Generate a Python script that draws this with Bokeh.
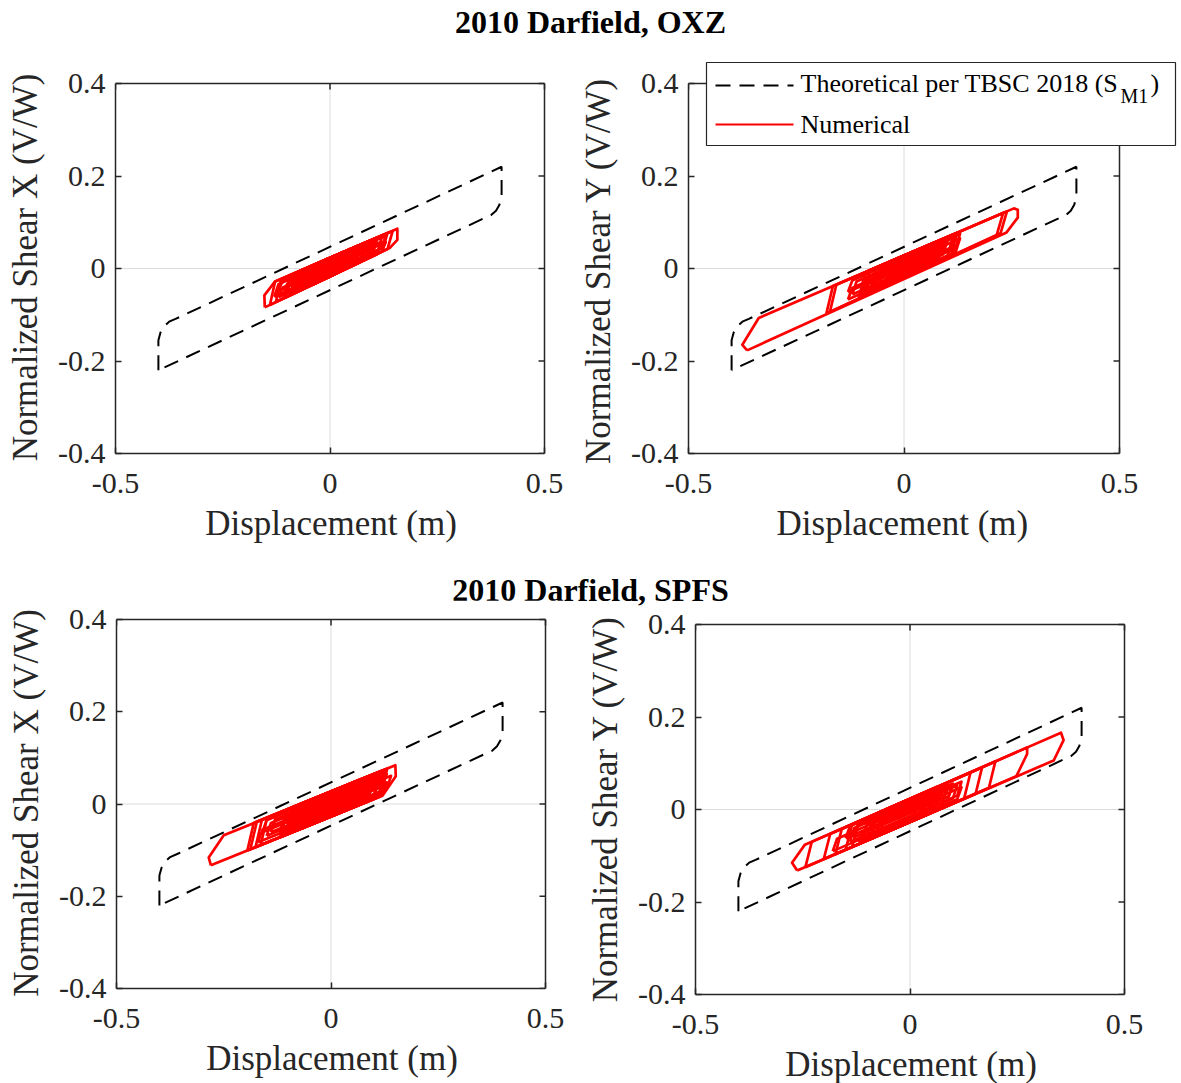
from bokeh.plotting import figure
from bokeh.layouts import column, row
from bokeh.models import (Range1d, FixedTicker, Div, Spacer,
                          BoxAnnotation, Arrow, Label)
from bokeh.embed import file_html
from bokeh.resources import INLINE

# ---------------- data ----------------
x_ticks = [-0.5, 0, 0.5]
x_tick_labels = ["-0.5", "0", "0.5"]
y_ticks = [-0.4, -0.2, 0, 0.2, 0.4]
y_tick_labels = ["-0.4", "-0.2", "0", "0.2", "0.4"]

# Theoretical bilinear loop per TBSC 2018 (S_M1)
theo_disp = [-0.40, -0.40, -0.395, -0.387, -0.375, -0.36, 0.40, 0.40, 0.395, 0.387, 0.375, 0.36, -0.40]
theo_shear = [-0.22, -0.155, -0.138, -0.125, -0.115, -0.109, 0.22, 0.155, 0.138, 0.125, 0.115, 0.109, -0.22]

# Numerical loops, OXZ station, X direction
oxz_x_disp = [
    [-0.152, -0.153, -0.128, 0.157, 0.157, 0.140],
    [-0.140, -0.128, 0.146, 0.134], [-0.126, -0.114, 0.134, 0.122],
    [-0.106, -0.094, 0.122, 0.110], [-0.092, -0.080, 0.107, 0.095],
    [-0.075, -0.063, 0.095, 0.083], [-0.060, -0.048, 0.087, 0.075],
    [-0.040, -0.028, 0.064, 0.052], [-0.030, -0.018, 0.048, 0.036],
    [-0.020, -0.008, 0.032, 0.020], [-0.050, -0.038, 0.020, 0.008],
    [-0.010, 0.002, 0.070, 0.058], [-0.07, -0.06, 0.07, 0.06],
    [-0.10, -0.09, 0.10, 0.09], [-0.05, -0.04, 0.11, 0.10],
    [-0.12, -0.11, 0.04, 0.03], [-0.08, -0.07, 0.08, 0.07],
    [-0.06, -0.05, 0.09, 0.08], [-0.09, -0.08, 0.05, 0.04],
    [-0.04, -0.03, 0.06, 0.05], [-0.13, -0.12, 0.13, 0.12],
    [-0.11, -0.10, 0.12, 0.11], [-0.12, -0.11, 0.11, 0.10],
    [-0.09, -0.08, 0.13, 0.12],
]
oxz_x_shear = [
    [-0.084, -0.058, -0.028, 0.086, 0.062, 0.045],
    [-0.079, -0.028, 0.081, 0.042], [-0.072, -0.023, 0.077, 0.037],
    [-0.064, -0.015, 0.072, 0.031], [-0.057, -0.009, 0.066, 0.025],
    [-0.050, -0.002, 0.061, 0.020], [-0.043, 0.004, 0.058, 0.016],
    [-0.035, 0.012, 0.049, 0.006], [-0.030, 0.016, 0.042, -0.001],
    [-0.026, 0.020, 0.036, -0.008], [-0.039, 0.008, 0.031, -0.014],
    [-0.021, 0.024, 0.051, 0.009], [-0.035, -0.013, 0.041, 0.019],
    [-0.048, -0.026, 0.054, 0.032], [-0.031, 0.001, 0.064, 0.032],
    [-0.062, -0.041, 0.022, 0.001], [-0.044, -0.025, 0.038, 0.019],
    [-0.025, -0.001, 0.058, 0.034], [-0.052, -0.034, 0.021, 0.003],
    [-0.021, -0.001, 0.037, 0.017], [-0.061, -0.034, 0.071, 0.044],
    [-0.058, -0.034, 0.058, 0.034], [-0.048, -0.026, 0.066, 0.044],
    [-0.052, -0.032, 0.057, 0.036],
]

# Numerical loops, OXZ station, Y direction
oxz_y_disp = [
    [-0.364, -0.375, -0.337, 0.255, 0.264, 0.264, 0.238],
    [-0.180, -0.165, 0.239, 0.224], [-0.172, -0.157, 0.230, 0.215],
    [-0.105, -0.090, 0.123, 0.108], [-0.095, -0.080, 0.115, 0.100],
    [-0.080, -0.065, 0.090, 0.075], [-0.060, -0.045, 0.062, 0.047],
    [-0.045, -0.030, 0.055, 0.040], [-0.030, -0.015, 0.080, 0.065],
    [-0.070, -0.055, 0.030, 0.015], [-0.10, -0.09, 0.10, 0.09],
    [-0.07, -0.06, 0.07, 0.06], [-0.13, -0.12, 0.05, 0.04],
    [-0.04, -0.03, 0.13, 0.12], [-0.09, -0.08, 0.09, 0.08],
    [-0.06, -0.05, 0.10, 0.09], [-0.10, -0.09, 0.05, 0.04],
    [-0.04, -0.03, 0.07, 0.06], [-0.12, -0.11, 0.12, 0.11],
    [-0.10, -0.09, 0.13, 0.12], [-0.13, -0.12, 0.10, 0.09],
    [-0.08, -0.07, 0.12, 0.11],
]
oxz_y_shear = [
    [-0.177, -0.165, -0.107, 0.130, 0.127, 0.110, 0.078],
    [-0.097, -0.038, 0.124, 0.076], [-0.094, -0.035, 0.120, 0.072],
    [-0.065, -0.008, 0.077, 0.026], [-0.061, -0.004, 0.074, 0.023],
    [-0.054, 0.002, 0.064, 0.012], [-0.046, 0.010, 0.053, 0.000],
    [-0.039, 0.016, 0.050, -0.003], [-0.033, 0.022, 0.060, 0.008],
    [-0.050, 0.006, 0.040, -0.014], [-0.050, -0.023, 0.057, 0.030],
    [-0.037, -0.010, 0.044, 0.017], [-0.067, -0.042, 0.029, 0.005],
    [-0.021, 0.007, 0.075, 0.046], [-0.050, -0.028, 0.044, 0.022],
    [-0.023, 0.001, 0.064, 0.040], [-0.058, -0.036, 0.023, 0.001],
    [-0.021, -0.003, 0.039, 0.021], [-0.056, -0.028, 0.068, 0.040],
    [-0.056, -0.028, 0.065, 0.036], [-0.051, -0.026, 0.066, 0.042],
    [-0.052, -0.029, 0.050, 0.028],
]

# Numerical loops, SPFS station, X direction
spfs_x_disp = [
    [-0.280, -0.285, -0.250, 0.150, 0.151, 0.120],
    [-0.195, -0.180, 0.131, 0.116], [-0.188, -0.173, 0.125, 0.110],
    [-0.176, -0.161, 0.115, 0.100], [-0.164, -0.149, 0.100, 0.085],
    [-0.118, -0.103, 0.084, 0.069], [-0.106, -0.091, 0.070, 0.055],
    [-0.087, -0.072, 0.053, 0.038], [-0.071, -0.056, 0.040, 0.025],
    [-0.15, -0.14, 0.10, 0.09], [-0.10, -0.09, 0.12, 0.11],
    [-0.17, -0.16, 0.05, 0.04], [-0.06, -0.05, 0.08, 0.07],
    [-0.08, -0.07, 0.11, 0.10], [-0.05, -0.04, 0.12, 0.11],
    [-0.12, -0.11, 0.06, 0.05], [-0.03, -0.02, 0.09, 0.08],
    [-0.14, -0.13, 0.13, 0.12], [-0.12, -0.11, 0.14, 0.13],
    [-0.16, -0.15, 0.11, 0.10], [-0.09, -0.08, 0.13, 0.12],
]
spfs_x_shear = [
    [-0.133, -0.116, -0.068, 0.084, 0.060, 0.018],
    [-0.101, -0.041, 0.077, 0.017], [-0.098, -0.039, 0.074, 0.015],
    [-0.094, -0.034, 0.071, 0.011], [-0.089, -0.030, 0.065, 0.005],
    [-0.072, -0.012, 0.059, -0.001], [-0.067, -0.008, 0.054, -0.006],
    [-0.060, 0.000, 0.047, -0.013], [-0.054, 0.006, 0.042, -0.018],
    [-0.069, -0.041, 0.050, 0.022], [-0.043, -0.016, 0.064, 0.037],
    [-0.083, -0.056, 0.024, -0.003], [-0.031, -0.011, 0.038, 0.019],
    [-0.048, -0.023, 0.046, 0.020], [-0.017, 0.007, 0.068, 0.044],
    [-0.068, -0.042, 0.023, -0.003], [-0.016, 0.007, 0.049, 0.025],
    [-0.061, -0.033, 0.065, 0.038], [-0.062, -0.034, 0.061, 0.033],
    [-0.061, -0.035, 0.064, 0.038], [-0.056, -0.032, 0.047, 0.024],
]

# Numerical loops, SPFS station, Y direction
spfs_y_disp = [
    [-0.263, -0.275, -0.245, 0.352, 0.358, 0.335],
    [-0.244, -0.229, 0.273, 0.273, 0.248], [-0.201, -0.186, 0.199, 0.184],
    [-0.174, -0.159, 0.168, 0.153], [-0.135, -0.120, 0.141, 0.126],
    [-0.111, -0.096, 0.087, 0.072], [-0.092, -0.077, 0.063, 0.048],
    [-0.070, -0.055, 0.055, 0.040], [-0.150, -0.135, 0.020, 0.005],
    [-0.14, -0.13, 0.12, 0.11], [-0.09, -0.08, 0.09, 0.08],
    [-0.18, -0.17, 0.04, 0.03], [-0.05, -0.04, 0.06, 0.05],
    [-0.10, -0.09, 0.07, 0.06], [-0.06, -0.05, 0.08, 0.07],
    [-0.12, -0.11, 0.03, 0.02], [-0.03, -0.02, 0.10, 0.09],
    [-0.13, -0.12, 0.10, 0.09], [-0.11, -0.10, 0.11, 0.10],
    [-0.15, -0.14, 0.08, 0.07], [-0.08, -0.07, 0.12, 0.11],
]
spfs_y_shear = [
    [-0.132, -0.115, -0.076, 0.166, 0.150, 0.106],
    [-0.125, -0.070, 0.134, 0.120, 0.072], [-0.107, -0.053, 0.104, 0.047],
    [-0.097, -0.042, 0.091, 0.034], [-0.081, -0.026, 0.080, 0.023],
    [-0.071, -0.016, 0.058, 0.002], [-0.064, -0.008, 0.049, -0.008],
    [-0.055, 0.001, 0.045, -0.011], [-0.087, -0.032, 0.031, -0.025],
    [-0.070, -0.040, 0.060, 0.030], [-0.042, -0.016, 0.052, 0.026],
    [-0.090, -0.063, 0.021, -0.006], [-0.026, -0.010, 0.030, 0.014],
    [-0.058, -0.032, 0.032, 0.006], [-0.024, 0.000, 0.052, 0.028],
    [-0.070, -0.048, 0.008, -0.014], [-0.020, 0.004, 0.052, 0.028],
    [-0.060, -0.032, 0.056, 0.028], [-0.060, -0.032, 0.052, 0.024],
    [-0.062, -0.036, 0.052, 0.026], [-0.054, -0.028, 0.048, 0.022],
]

titles = ["2010 Darfield, OXZ", "2010 Darfield, SPFS"]
x_label = "Displacement (m)"
y_labels = ["Normalized Shear X (V/W)", "Normalized Shear Y (V/W)"]
legend_labels = ["Theoretical per TBSC 2018 (S", "M1", ")", "Numerical"]

# ---------------- styling ----------------
FONT = "Liberation Serif"
AX = "#262626"
X0, X1 = x_ticks[0], x_ticks[-1]
Y0, Y1 = y_ticks[0], y_ticks[-1]
NBSP = "\u00a0"


def closed(loops):
    return [lp + [lp[0]] for lp in loops]


def make_panel(disp, shear, ylabel, box_w, box_h, ext_r, ext_t,
               mb_l, mb_r, mb_t, mb_b, xpad=0, ypad=0):
    ppx = box_w / (X1 - X0)
    ppy = box_h / (Y1 - Y0)
    p = figure(frame_width=box_w + ext_r, frame_height=box_h + ext_t,
               min_border_left=mb_l, min_border_right=mb_r,
               min_border_top=mb_t, min_border_bottom=mb_b,
               x_range=Range1d(X0, X1 + ext_r / ppx),
               y_range=Range1d(Y0, Y1 + ext_t / ppy),
               output_backend="svg", toolbar_location=None,
               x_axis_label=x_label + NBSP * xpad,
               y_axis_label=ylabel + NBSP * ypad)
    p.grid.visible = False
    p.outline_line_color = None
    p.background_fill_color = "white"
    p.border_fill_color = "white"

    xa, ya = p.xaxis[0], p.yaxis[0]
    xa.ticker = FixedTicker(ticks=x_ticks)
    ya.ticker = FixedTicker(ticks=y_ticks)
    xa.bounds = (X0, X1)
    ya.bounds = (Y0, Y1)
    xa.major_label_overrides = dict(zip(x_ticks, x_tick_labels))
    ya.major_label_overrides = dict(zip(y_ticks, y_tick_labels))
    for ax in (xa, ya):
        ax.axis_line_color = AX
        ax.axis_line_width = 1.5
        ax.major_tick_line_color = AX
        ax.major_tick_line_width = 1.5
        ax.major_tick_in = 6
        ax.major_tick_out = 0
        ax.minor_tick_line_color = None
        ax.major_label_text_font = FONT
        ax.major_label_text_color = AX
        ax.major_label_text_font_size = "30px"
        ax.axis_label_text_font = FONT
        ax.axis_label_text_font_size = "35px"
        ax.axis_label_text_font_style = "normal"
        ax.axis_label_text_color = AX
    xa.major_label_standoff = 20
    xa.axis_label_standoff = 8
    ya.major_label_standoff = 10
    ya.axis_label_standoff = 10

    # zero lines (light grid)
    p.segment(x0=[0, X0], y0=[Y0, 0], x1=[0, X1], y1=[Y1, 0],
              line_color="#dcdcdc", line_width=1, level="underlay")
    # top and right edges of the axes box, with inward ticks
    p.segment(x0=[X0, X1], y0=[Y1, Y0], x1=[X1, X1], y1=[Y1, Y1],
              line_color=AX, line_width=1.5)
    p.segment(x0=[X1] * len(y_ticks), y0=y_ticks,
              x1=[X1 - 6 / ppx] * len(y_ticks), y1=y_ticks,
              line_color=AX, line_width=1.5)
    p.segment(x0=x_ticks, y0=[Y1] * len(x_ticks),
              x1=x_ticks, y1=[Y1 - 6 / ppy] * len(x_ticks),
              line_color=AX, line_width=1.5)

    p.line(theo_disp, theo_shear, line_color="black", line_width=2,
           line_dash="15 9")
    p.multi_line(closed(disp), closed(shear), line_color="#ff0000",
                 line_width=2.7, line_join="round")
    return p


p1 = make_panel(oxz_x_disp, oxz_x_shear, y_labels[0], 429, 370, 2, 2, 115, 18, 31, 117)
p2 = make_panel(oxz_y_disp, oxz_y_shear, y_labels[1], 431, 370, 58, 23, 124, 4, 10, 117,
                xpad=7, ypad=3)
p3 = make_panel(spfs_x_disp, spfs_x_shear, y_labels[0], 429, 369, 2, 2, 116, 18, 17, 95)
p4 = make_panel(spfs_y_disp, spfs_y_shear, y_labels[1], 429, 370, 2, 2, 130, 55, 17, 89)

# ---------------- legend (in p2, screen units relative to its frame) ----------------
p2.add_layout(BoxAnnotation(left=18, right=487, top=391, bottom=308,
                            left_units="screen", right_units="screen",
                            top_units="screen", bottom_units="screen",
                            fill_color="white", fill_alpha=1.0,
                            line_color=AX, line_width=1.2, line_alpha=1.0))
p2.add_layout(Arrow(end=None, x_start=27, y_start=368, x_end=105, y_end=368,
                    start_units="screen", end_units="screen",
                    line_color="black", line_width=2, line_dash="15 9"))
p2.add_layout(Arrow(end=None, x_start=27, y_start=329, x_end=105, y_end=329,
                    start_units="screen", end_units="screen",
                    line_color="#ff0000", line_width=2))
p2.add_layout(Label(x=112, y=370, x_units="screen", y_units="screen",
                    text=legend_labels[0], text_font=FONT, text_font_size="26px",
                    text_color="black", text_baseline="alphabetic"))
p2.add_layout(Label(x=432, y=358, x_units="screen", y_units="screen",
                    text=legend_labels[1], text_font=FONT, text_font_size="20px",
                    text_color="black", text_baseline="alphabetic"))
p2.add_layout(Label(x=462, y=370, x_units="screen", y_units="screen",
                    text=legend_labels[2], text_font=FONT, text_font_size="26px",
                    text_color="black", text_baseline="alphabetic"))
p2.add_layout(Label(x=112, y=329, x_units="screen", y_units="screen",
                    text=legend_labels[3], text_font=FONT, text_font_size="26px",
                    text_color="black", text_baseline="alphabetic"))


def title_div(text, h, pad):
    return Div(text=f'<div style="text-align:center;font-family:\'{FONT}\';'
                    f'font-size:32px;font-weight:bold;color:black;'
                    f'padding-top:{pad}px;line-height:32px;width:1181px">{text}</div>',
               width=1181, height=h, margin=0)


layout = column(
    title_div(titles[0], 50, 6),
    row(column(p1), column(p2)),
    title_div(titles[1], 30, 4),
    row(column(p3), column(Spacer(width=10, height=5), p4)),
)

open("out.html", "w").write(file_html(layout, INLINE))
